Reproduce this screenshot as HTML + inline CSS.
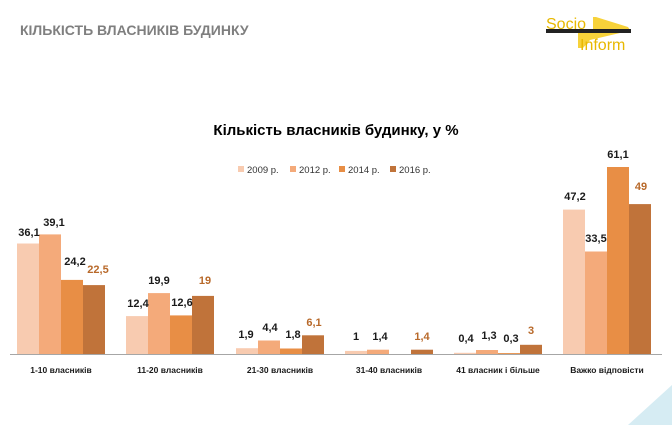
<!DOCTYPE html>
<html><head><meta charset="utf-8"><style>
html,body{margin:0;padding:0;background:#fff;}
svg{display:block;}
text{font-family:"Liberation Sans",sans-serif;}
</style></head><body>
<svg width="672" height="425" viewBox="0 0 672 425" xmlns="http://www.w3.org/2000/svg">
<rect width="672" height="425" fill="#fff"/>
<text x="20" y="35" font-size="14" font-weight="bold" fill="#7f7f7f">КІЛЬКІСТЬ ВЛАСНИКІВ БУДИНКУ</text>
<!-- logo -->
<polygon points="593,17 596,17 628,27 630,30 593,30" fill="#f7d23a"/>
<polygon points="578,33 620,33 590,40 583,48 578,48" fill="#f7d23a"/>
<rect x="546" y="29" width="85" height="4" fill="#222"/>
<text x="546" y="29" font-family="Liberation Serif,serif" font-size="16" fill="#e8b800">Socio</text>
<text x="580" y="50" font-family="Liberation Serif,serif" font-size="16" fill="#e8b800">Inform</text>
<polygon points="672,385 672,425 628,425" fill="#d6ecf3"/>
<text x="336" y="135" font-size="15" font-weight="bold" fill="#000" text-anchor="middle">Кількість власників будинку, у %</text>
<g font-size="9.5" fill="#333">
<rect x="238" y="166" width="6" height="6" fill="#f8cbb0"/><text x="247" y="173">2009 р.</text>
<rect x="290" y="166" width="6" height="6" fill="#f4aa7a"/><text x="299" y="173">2012 р.</text>
<rect x="339" y="166" width="6" height="6" fill="#e88e45"/><text x="348" y="173">2014 р.</text>
<rect x="390" y="166" width="6" height="6" fill="#c0733a"/><text x="399" y="173">2016 р.</text>
</g>
<g>
<rect x="17" y="243.5" width="22" height="110.5" fill="#f8cbb0"/>
<rect x="39" y="234.4" width="22" height="119.6" fill="#f4aa7a"/>
<rect x="61" y="279.9" width="22" height="74.1" fill="#e88e45"/>
<rect x="83" y="285.1" width="22" height="68.9" fill="#c0733a"/>
<rect x="126" y="316.1" width="22" height="37.9" fill="#f8cbb0"/>
<rect x="148" y="293.1" width="22" height="60.9" fill="#f4aa7a"/>
<rect x="170" y="315.4" width="22" height="38.6" fill="#e88e45"/>
<rect x="192" y="295.9" width="22" height="58.1" fill="#c0733a"/>
<rect x="236" y="348.2" width="22" height="5.8" fill="#f8cbb0"/>
<rect x="258" y="340.5" width="22" height="13.5" fill="#f4aa7a"/>
<rect x="280" y="348.5" width="22" height="5.5" fill="#e88e45"/>
<rect x="302" y="335.3" width="22" height="18.7" fill="#c0733a"/>
<rect x="345" y="350.9" width="22" height="3.1" fill="#f8cbb0"/>
<rect x="367" y="349.7" width="22" height="4.3" fill="#f4aa7a"/>
<rect x="411" y="349.7" width="22" height="4.3" fill="#c0733a"/>
<rect x="454" y="352.8" width="22" height="1.2" fill="#f8cbb0"/>
<rect x="476" y="350" width="22" height="4" fill="#f4aa7a"/>
<rect x="498" y="353.1" width="22" height="0.9" fill="#e88e45"/>
<rect x="520" y="344.8" width="22" height="9.2" fill="#c0733a"/>
<rect x="563" y="209.6" width="22" height="144.4" fill="#f8cbb0"/>
<rect x="585" y="251.5" width="22" height="102.5" fill="#f4aa7a"/>
<rect x="607" y="167" width="22" height="187" fill="#e88e45"/>
<rect x="629" y="204.1" width="22" height="149.9" fill="#c0733a"/>
</g>
<line x1="10" y1="354.5" x2="662" y2="354.5" stroke="#a6a6a6" stroke-width="1"/>
<g font-size="11" font-weight="bold" fill="#1a1a1a" text-anchor="middle">
<text x="29" y="236">36,1</text><text x="54" y="226">39,1</text><text x="75" y="265">24,2</text><text x="98" y="273" fill="#b8692a">22,5</text>
<text x="138" y="307">12,4</text><text x="159" y="284">19,9</text><text x="182" y="306">12,6</text><text x="205" y="284" fill="#b8692a">19</text>
<text x="246" y="338">1,9</text><text x="270" y="331">4,4</text><text x="293" y="338">1,8</text><text x="314" y="326" fill="#b8692a">6,1</text>
<text x="356" y="340">1</text><text x="380" y="340">1,4</text><text x="422" y="340" fill="#b8692a">1,4</text>
<text x="466" y="342">0,4</text><text x="489" y="339">1,3</text><text x="511" y="342">0,3</text><text x="531" y="334" fill="#b8692a">3</text>
<text x="575" y="200">47,2</text><text x="596" y="242">33,5</text><text x="618" y="158">61,1</text><text x="641" y="190" fill="#b8692a">49</text>
</g>
<g font-size="8.5" font-weight="bold" fill="#1a1a1a" text-anchor="middle">
<text x="61" y="373">1-10 власників</text>
<text x="170" y="373">11-20 власників</text>
<text x="280" y="373">21-30 власників</text>
<text x="389" y="373">31-40 власників</text>
<text x="498" y="373">41 власник і більше</text>
<text x="607" y="373">Важко відповісти</text>
</g>
</svg>
</body></html>
